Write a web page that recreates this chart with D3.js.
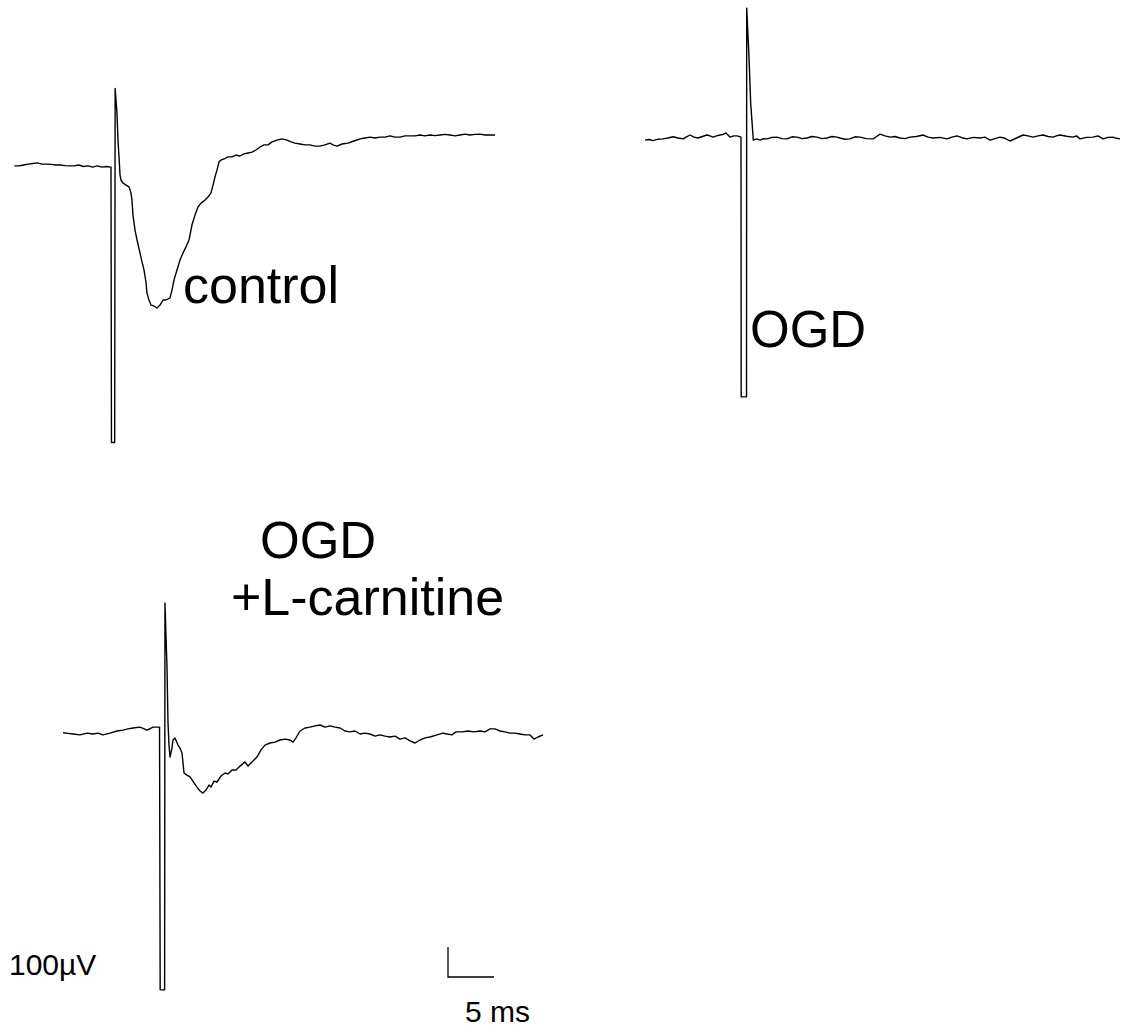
<!DOCTYPE html>
<html>
<head>
<meta charset="utf-8">
<script src="https://cdn.jsdelivr.net/npm/d3@7"></script>
<style>
  html, body { margin: 0; padding: 0; background: #fff; }
  svg { display: block; }
  text { font-family: "Liberation Sans", Arial, sans-serif; fill: #000; }
</style>
</head>
<body>
<svg id="chart" width="1122" height="1029"></svg>
<script>
// Field potential recordings: [time (ms) from stimulus, voltage (µV) relative to baseline]
const controlTrace = [
  [-10.5,-3],[-10,-3],[-9.5,0],[-9,3],[-8.5,5],[-8,7],[-7.5,3],[-7,3],[-6.5,2],[-6,0],
  [-5.5,0],[-5,-2],[-4.5,-3],[-4,-3],[-3.5,0],[-3,-5],[-2.5,-3],[-2,-7],[-1.5,-3],[-1,-7],
  [-0.5,-5],[0,-7],
  [0.05,-925],[0.4,-925],[0.45,255],
  [0.65,173],[0.76,83],[0.87,27],[0.98,-33],[1.09,-50],[1.3,-60],[1.63,-67],[1.96,-73],
  [2.17,-93],[2.28,-117],[2.39,-167],[2.61,-217],[2.83,-250],[3.15,-293],[3.37,-323],
  [3.59,-350],[3.8,-390],[3.91,-427],[4.13,-450],[4.35,-467],[4.67,-470],[5.0,-477],
  [5.33,-467],[5.65,-450],[5.98,-450],[6.41,-443],[6.63,-417],[6.85,-383],[7.17,-350],
  [7.5,-317],[7.83,-293],[8.15,-273],[8.48,-250],[8.8,-200],[9.13,-167],[9.46,-140],
  [9.78,-127],[10.22,-117],[10.54,-107],[10.87,-93],[11.09,-67],[11.3,-40],[11.52,-17],
  [11.74,10],[11.96,17],[12.28,20],[12.72,27],[13.15,27],[13.59,33],[14.02,30],[14.46,37],
  [14.89,40],[15.33,43],[15.76,50],[16.2,60],[16.63,67],[17.07,67],[17.5,77],[18.04,83],
  [18.59,87],[19.13,83],[19.57,77],[20,73],[20.54,70],[21.09,67],[21.63,67],[22.17,63],
  [22.72,63],[23.26,67],[23.8,73],[24.13,67],[24.57,63],[25.11,70],[25.76,73],[26.41,80],
  [27.07,87],[27.61,90],[28.15,93],[28.7,90],[29.24,93],[29.78,93],[30.33,97],[30.87,93],
  [31.41,93],[31.96,97],[32.5,97],[33.04,97],[33.59,100],[34.13,97],[34.67,100],[35.22,98],
  [35.76,100],[36.3,102],[36.85,100],[37.39,97],[37.93,100],[38.48,103],[39.02,100],
  [39.57,102],[40.11,103],[40.65,100],[41.2,100],[41.74,100]
];

const ogdTrace = [
  [-10.43,-7],[-10,-5],[-9.57,-9],[-9.02,-4],[-8.48,-3],[-7.93,0],[-7.39,4],[-6.85,0],
  [-6.3,-3],[-5.92,4],[-5.54,10],[-5.1,3],[-4.67,0],[-4.2,5],[-3.7,10],[-3.37,7],[-3.04,3],
  [-2.66,7],[-2.28,10],[-1.95,12],[-1.63,17],[-1.2,3],[-0.8,7],[-0.43,7],[0,3],
  [0.02,-863],[0.6,-863],[0.62,433],
  [0.87,270],[1.05,117],[1.34,-7],
  [1.7,-3],[2.07,-7],[2.45,-2],[2.83,-3],[3.37,2],[3.91,3],[4.45,-2],[5,-3],[5.55,4],
  [6.09,3],[6.63,-2],[7.17,0],[7.72,5],[8.26,3],[8.8,-2],[9.35,0],[9.89,5],[10.43,3],
  [10.76,0],[11.3,-4],[11.85,-3],[12.39,4],[12.93,3],[13.64,-2],[14.35,-3],[14.75,5],
  [15.11,13],[15.65,7],[16.2,3],[16.74,5],[17.28,0],[17.83,-2],[18.37,3],[19.08,5],
  [19.78,10],[20.33,3],[20.87,0],[21.63,2],[22.39,-3],[22.93,3],[23.48,7],[24.02,1],
  [24.57,-3],[25.27,2],[25.98,0],[26.52,3],[27.07,-7],[27.61,-2],[28.15,3],[28.7,-1],
  [29.24,-10],[29.95,0],[30.65,10],[31.2,7],[31.74,3],[32.28,7],[32.83,10],[33.37,5],
  [33.91,3],[34.29,7],[34.67,10],[35.38,6],[36.09,3],[36.47,7],[36.85,-3],[37.55,2],
  [38.26,3],[38.8,7],[39.35,-3],[39.89,2],[40.43,3],[40.8,-1],[41.2,-3]
];

const carnitineTrace = [
  [-10.54,-16],[-10,-18],[-9.46,-20],[-8.7,-23],[-7.93,-17],[-7.28,-20],[-6.74,-17],
  [-6.2,-23],[-5.43,-17],[-4.67,-10],[-4.02,-7],[-3.48,-3],[-2.93,0],[-2.17,3],[-1.41,-7],
  [-0.76,3],[-0.05,3],
  [0.02,-873],[0.5,-873],[0.54,417],
  [0.76,203],[0.87,17],[0.98,-57],[1.09,-97],[1.3,-67],[1.41,-40],[1.63,-33],[1.96,-57],
  [2.17,-67],[2.39,-83],[2.61,-150],[2.93,-157],[3.26,-163],[3.7,-183],[4.02,-197],
  [4.35,-210],[4.67,-217],[5,-207],[5.33,-190],[5.54,-197],[5.87,-177],[6.2,-180],
  [6.63,-160],[7.07,-150],[7.39,-153],[7.83,-140],[8.26,-140],[8.7,-127],[9.24,-113],
  [9.57,-127],[10,-113],[10.54,-97],[10.98,-73],[11.41,-57],[11.96,-50],[12.5,-47],
  [13.04,-40],[13.59,-37],[14.13,-40],[14.46,-47],[14.78,-33],[15.22,-10],[15.76,0],
  [16.3,3],[16.85,7],[17.39,10],[17.93,3],[18.48,7],[19.02,3],[19.57,0],[20.11,-10],
  [20.65,-13],[21.2,-10],[21.74,-20],[22.28,-17],[22.83,-20],[23.37,-27],[23.91,-23],
  [24.46,-27],[25,-30],[25.54,-27],[26.09,-37],[26.63,-33],[27.17,-43],[27.72,-50],
  [28.26,-40],[28.8,-33],[29.35,-30],[30.11,-23],[30.76,-17],[31.2,-20],[31.74,-23],
  [32.17,-13],[32.83,-13],[33.48,-10],[34.13,-13],[34.78,-10],[35.33,-13],[35.87,-3],
  [36.41,-3],[36.96,-10],[37.5,-13],[38.04,-17],[38.59,-17],[39.13,-20],[39.67,-23],
  [40.22,-23],[40.65,-37],[41.09,-30],[41.63,-23]
];

// Condition labels (each line of a label is its own entry)
const conditionLabels = ["control", "OGD", "OGD", "+L-carnitine"];

// Calibration bar
const scaleBarTime = 5;      // ms
const scaleBarVoltage = 100; // µV
const scaleBarTimeLabel = "5 ms";
const scaleBarVoltageLabel = "100µV";

const svg = d3.select("#chart");

// Shared calibration: 5 ms -> 46 px, 100 µV -> 30 px
const x = d3.scaleLinear().domain([0, 5]).range([0, 46]);
const y = d3.scaleLinear().domain([0, 100]).range([0, -30]);

const line = d3.line()
  .x(d => x(d[0]))
  .y(d => y(d[1]));

// Panels: stimulus time / baseline position on the page
const panels = [
  { data: controlTrace,   ox: 111, oy: 165 },
  { data: ogdTrace,       ox: 741, oy: 138 },
  { data: carnitineTrace, ox: 160, oy: 728 }
];

panels.forEach(p => {
  svg.append("g")
    .attr("transform", `translate(${p.ox},${p.oy})`)
    .append("path")
    .datum(p.data)
    .attr("d", line)
    .attr("fill", "none")
    .attr("stroke", "#000")
    .attr("stroke-width", 1.4)
    .attr("stroke-linejoin", "round");
});

// Labels
const labelPos = [
  { x: 183, y: 303, size: 52 },
  { x: 750, y: 347, size: 51 },
  { x: 260, y: 558, size: 51 },
  { x: 231, y: 615, size: 52 }
];
svg.selectAll("text.cond")
  .data(conditionLabels)
  .join("text")
  .attr("class", "cond")
  .attr("x", (d, i) => labelPos[i].x)
  .attr("y", (d, i) => labelPos[i].y)
  .attr("font-size", (d, i) => labelPos[i].size)
  .text(d => d);

// Calibration bar (L shape): vertical = voltage, horizontal = time
const bar = svg.append("g").attr("transform", "translate(448,977)");
bar.append("path")
  .attr("d", d3.line()([[0, y(scaleBarVoltage)], [0, 0], [x(scaleBarTime), 0]]))
  .attr("fill", "none")
  .attr("stroke", "#000")
  .attr("stroke-width", 1.3);

svg.append("text")
  .attr("x", 9)
  .attr("y", 975)
  .attr("font-size", 30)
  .text(scaleBarVoltageLabel);

svg.append("text")
  .attr("x", 465)
  .attr("y", 1022)
  .attr("font-size", 30)
  .text(scaleBarTimeLabel);
</script>
</body>
</html>
